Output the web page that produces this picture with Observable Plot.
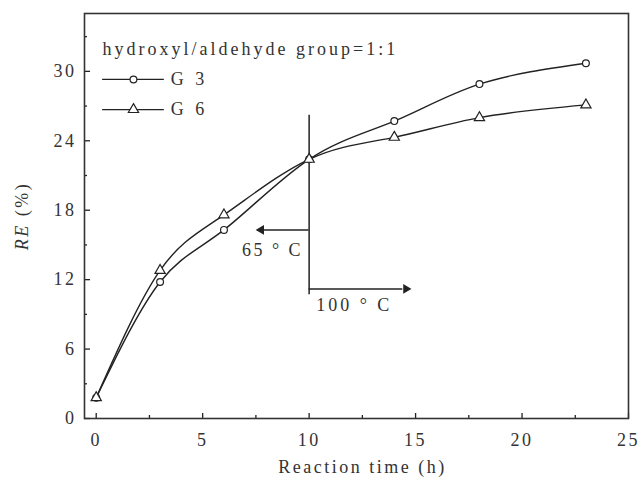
<!DOCTYPE html>
<html>
<head>
<meta charset="utf-8">
<script src="https://cdn.jsdelivr.net/npm/d3@7"></script>
<script src="https://cdn.jsdelivr.net/npm/@observablehq/plot@0.6"></script>
<style>
  body { margin: 0; background: #fff; }
  #chart svg, #chart svg text { font-family: "Liberation Serif", "Times New Roman", serif !important; }
  #chart svg text { letter-spacing: 2.5px; }
</style>
</head>
<body>
<div id="chart"></div>
<script>
// Reaction time (h) at which RE was measured
const times = [0, 3, 6, 10, 14, 18, 23];
// RE (%) for the two samples
const g3Values = [1.8, 11.8, 16.3, 22.4, 25.7, 28.9, 30.7];
const g6Values = [1.8, 12.8, 17.6, 22.4, 24.3, 26.0, 27.1];
const seriesNames = ["G 3", "G 6"];

// axis ticks
const xTicks = [0, 5, 10, 15, 20, 25];
const xMinorTicks = [2.5, 7.5, 12.5, 17.5, 22.5];
const yTicks = [0, 6, 12, 18, 24, 30];
const yMinorTicks = [3, 9, 15, 21, 27, 33];

// text
const legendTitle = "hydroxyl/aldehyde group=1:1";
const xLabel = "Reaction time (h)";
const yLabel = "RE (%)";
const switchTime = 10;           // temperature switched at 10 h
const tempLabels = ["65 ° C", "100 ° C"];

const g3 = times.map((t, i) => ({t, v: g3Values[i]}));
const g6 = times.map((t, i) => ({t, v: g6Values[i]}));

const ink = "#222";
const textInk = "#333";

// legend layout, in chart units
const lg = {x1: 0.3, x2: 3.2, xm: 1.75, xt: 3.5, yTitle: 31.9, rows: [29.3, 26.7]};

const chart = Plot.plot({
  width: 640,
  height: 480,
  marginLeft: 84,
  marginRight: 12,
  marginTop: 13,
  marginBottom: 62,
  style: {fontSize: "18px", color: ink, background: "#fff", overflow: "visible"},
  x: {domain: [-0.55, 25]},
  y: {domain: [0, 35]},
  marks: [
    // inward ticks
    Plot.axisX(xTicks, {tickSize: -5, fill: "none", label: null, stroke: ink, strokeWidth: 1.3}),
    Plot.axisX(xMinorTicks, {tickSize: -3, fill: "none", label: null, stroke: ink, strokeWidth: 1.3}),
    Plot.axisY(yTicks, {tickSize: -6, fill: "none", label: null, stroke: ink, strokeWidth: 1.3}),
    Plot.axisY(yMinorTicks, {tickSize: -3, fill: "none", label: null, stroke: ink, strokeWidth: 1.3}),
    // tick labels
    Plot.axisX(xTicks, {tickSize: 0, tickPadding: 15, label: null, fill: textInk, className: "ticklabels"}),
    Plot.axisY(yTicks, {tickSize: 0, tickPadding: 8, label: null, fill: textInk, className: "ticklabels"}),
    Plot.frame({stroke: "#333", strokeWidth: 1.6}),

    // axis titles
    Plot.text([xLabel], {text: d => d, frameAnchor: "bottom", dy: 49, dx: 6, lineAnchor: "middle", fill: textInk}),
    Plot.text([yLabel], {text: d => d, frameAnchor: "left", dx: -62, rotate: -90, textAnchor: "middle", lineAnchor: "middle", fill: textInk, className: "ylabel"}),

    // temperature switch annotation
    Plot.ruleX([switchTime], {y1: 10.7, y2: 26.2, stroke: ink, strokeWidth: 1.5}),
    Plot.ruleY([16.3], {x1: switchTime, x2: 7.9, stroke: ink, strokeWidth: 1.5}),
    Plot.dot([{x: 7.75, y: 16.3}], {x: "x", y: "y", symbol: "triangle", r: 2.6, rotate: -90, fill: ink, stroke: ink}),
    Plot.ruleY([11.2], {x1: switchTime, x2: 14.4, stroke: ink, strokeWidth: 1.5}),
    Plot.dot([{x: 14.55, y: 11.2}], {x: "x", y: "y", symbol: "triangle", r: 2.6, rotate: 90, fill: ink, stroke: ink}),
    Plot.text([tempLabels[0]], {x: switchTime, y: 14.5, text: d => d, dx: -6, textAnchor: "end", fill: textInk}),
    Plot.text([tempLabels[1]], {x: switchTime, y: 9.8, text: d => d, dx: 7, textAnchor: "start", fill: textInk, className: "t100"}),

    // series
    Plot.line(g3, {x: "t", y: "v", curve: "natural", stroke: ink, strokeWidth: 1.4}),
    Plot.line(g6, {x: "t", y: "v", curve: "natural", stroke: ink, strokeWidth: 1.4}),
    Plot.dot(g3, {x: "t", y: "v", r: 3.4, fill: "white", stroke: ink, strokeWidth: 1.2}),
    Plot.dot(g6, {x: "t", y: "v", symbol: "triangle", r: 3.8, fill: "white", stroke: ink, strokeWidth: 1.2}),

    // legend
    Plot.text([legendTitle], {x: lg.x1, y: lg.yTitle, text: d => d, textAnchor: "start", fill: textInk, className: "legend-title"}),
    Plot.ruleY(lg.rows, {x1: lg.x1, x2: lg.x2, y: d => d, stroke: ink, strokeWidth: 1.3}),
    Plot.dot([lg.rows[0]], {x: lg.xm, y: d => d, r: 3.4, fill: "white", stroke: ink, strokeWidth: 1.2}),
    Plot.dot([lg.rows[1]], {x: lg.xm, y: d => d, symbol: "triangle", r: 3.8, fill: "white", stroke: ink, strokeWidth: 1.2}),
    Plot.text(seriesNames, {x: lg.xt, y: (d, i) => lg.rows[i], text: d => d, textAnchor: "start", fill: textInk, className: "legend-keys"})
  ]
});

// italic "RE" in the y-axis title
d3.select(chart).selectAll(".ylabel text").each(function () {
  const t = d3.select(this);
  t.text(null);
  t.append("tspan").attr("font-style", "italic").text("RE");
  t.append("tspan").text(" (%)");
});
d3.select(chart).selectAll(".legend-title text").style("letter-spacing", "3px");
d3.select(chart).selectAll(".legend-keys text").style("letter-spacing", "3.5px");
d3.select(chart).selectAll(".t100 text").style("letter-spacing", "3px");

document.getElementById("chart").appendChild(chart);
</script>
</body>
</html>
